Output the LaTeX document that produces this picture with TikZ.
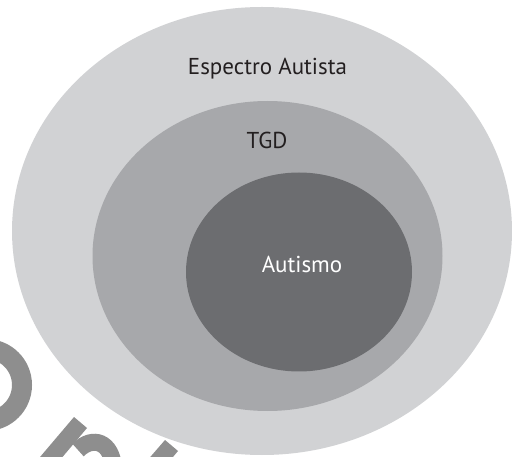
\documentclass[tikz,border=0pt]{standalone}
\usepackage{fontspec}
\setmainfont{PT Sans}
\usetikzlibrary{shapes.geometric}
\definecolor{spectrumfill}{HTML}{D1D2D4}
\definecolor{tgdfill}{HTML}{A7A8AB}
\definecolor{autfill}{HTML}{6C6D70}
\definecolor{labeldark}{HTML}{231F20}
\definecolor{markgray}{HTML}{8E8E8E}
\begin{document}
\begin{tikzpicture}[x=1pt,y=-1pt,
  zone/.style={ellipse, inner sep=0pt, outer sep=0pt, draw=none},
  zonelabel/.style={font=\fontsize{23}{27}\selectfont, inner sep=0pt, anchor=base},
  mark/.style={fill=markgray, draw=none}]
\useasboundingbox (0,0) rectangle (512,457);
\clip (0,0) rectangle (512,457);
\fill[white] (0,0) rectangle (512,457);

% nested sets
\node[zone, fill=spectrumfill, minimum width=500pt, minimum height=448pt] (spectrum) at (262,231) {};
\node[zone, fill=tgdfill, minimum width=350pt, minimum height=310pt] (tgd) at (267.5,256) {};
\node[zone, fill=autfill, minimum width=226pt, minimum height=199pt] (autismo) at (299,272) {};

% labels
\node[zonelabel, text=labeldark] (spectrumlabel) at (267.5,75) {Espectro Autista};
\node[zonelabel, text=labeldark] (tgdlabel) at (267,149) {TGD};
\node[zonelabel, text=white] (autismolabel) at (302,273) {Autismo};

% grey lettering along the lower left edge
\draw[markgray, line width=20pt] (-14,385) circle[radius=36];
\fill[markgray] (74,417) -- (87,428) -- (51.5,470) -- (29,470) -- cycle;
\draw[markgray, line width=17pt] (78,450) .. controls (92,436) and (112,440) .. (114,470);
\fill[markgray] (165,440) -- (178,451) -- (162,470) -- (139,470) -- cycle;
\end{tikzpicture}
\end{document}
